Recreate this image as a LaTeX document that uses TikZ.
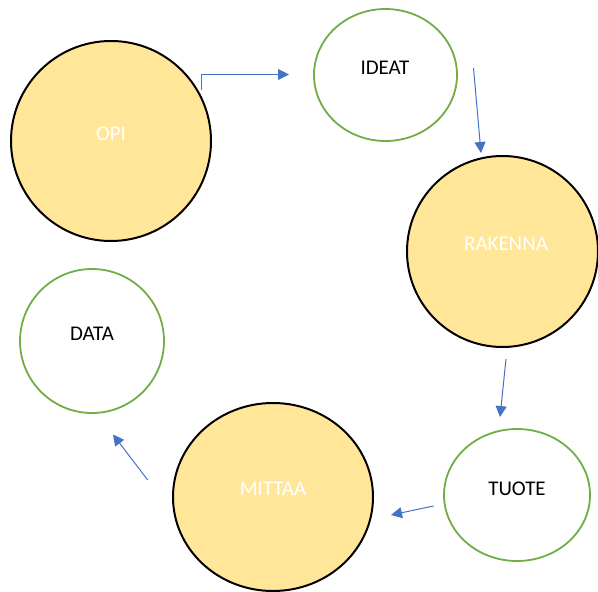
\documentclass[tikz,border=0pt]{standalone}
\usepackage{fontspec}
\setmainfont{Carlito}
\usetikzlibrary{shapes.geometric,arrows.meta}
\definecolor{stepfill}{HTML}{FFE699}
\definecolor{ringgreen}{HTML}{70AD47}
\definecolor{flowblue}{HTML}{4472C4}
\tikzset{
  stage/.style={ellipse, draw=black, line width=2pt, fill=stepfill, inner sep=0pt},
  result/.style={ellipse, draw=ringgreen, line width=1.8pt, fill=white, inner sep=0pt},
  stagetext/.style={text=white, font=\fontsize{21}{24}\selectfont},
  resulttext/.style={text=black, font=\fontsize{21}{24}\selectfont},
  flow/.style={draw=flowblue, line width=1pt, -{Triangle[length=11pt,width=11pt]}}
}
\begin{document}
\begin{tikzpicture}[x=1bp,y=-1bp]
\useasboundingbox (0,0) rectangle (598,592);
\fill[white] (0,0) rectangle (598,592);

% cycle stages
\node[stage, minimum width=200bp, minimum height=200bp] (opi) at (111,141) {};
\node[result, minimum width=143bp, minimum height=132bp] (ideat) at (385.5,75) {};
\node[stage, minimum width=191bp, minimum height=191bp] (rakenna) at (502.5,251.5) {};
\node[result, minimum width=146bp, minimum height=132bp] (tuote) at (517,495) {};
\node[stage, minimum width=200bp, minimum height=188bp] (mittaa) at (273,497) {};
\node[result, minimum width=144bp, minimum height=144bp] (data) at (92,341) {};

% labels
\node[stagetext] (opi-t) at (111,134) {OPI};
\node[resulttext] (ideat-t) at (385,68) {IDEAT};
\node[stagetext] (rakenna-t) at (506,244) {RAKENNA};
\node[resulttext] (tuote-t) at (517,489) {TUOTE};
\node[stagetext] (mittaa-t) at (273,489) {MITTAA};
\node[resulttext] (data-t) at (92,334) {DATA};

% connector ends
\coordinate (a1s) at (201.7,90);
\coordinate (a1e) at (289,74.5);
\coordinate (a2s) at (473.5,68);
\coordinate (a2e) at (481,153);
\coordinate (a3s) at (506,359);
\coordinate (a3e) at (500,417);
\coordinate (a4s) at (433.5,506);
\coordinate (a4e) at (391,515);
\coordinate (a5s) at (147.7,480);
\coordinate (a5e) at (113,434.5);

\draw[flow] (a1s) |- (a1e);
\draw[flow] (a2s) -- (a2e);
\draw[flow] (a3s) -- (a3e);
\draw[flow] (a4s) -- (a4e);
\draw[flow] (a5s) -- (a5e);
\end{tikzpicture}
\end{document}
